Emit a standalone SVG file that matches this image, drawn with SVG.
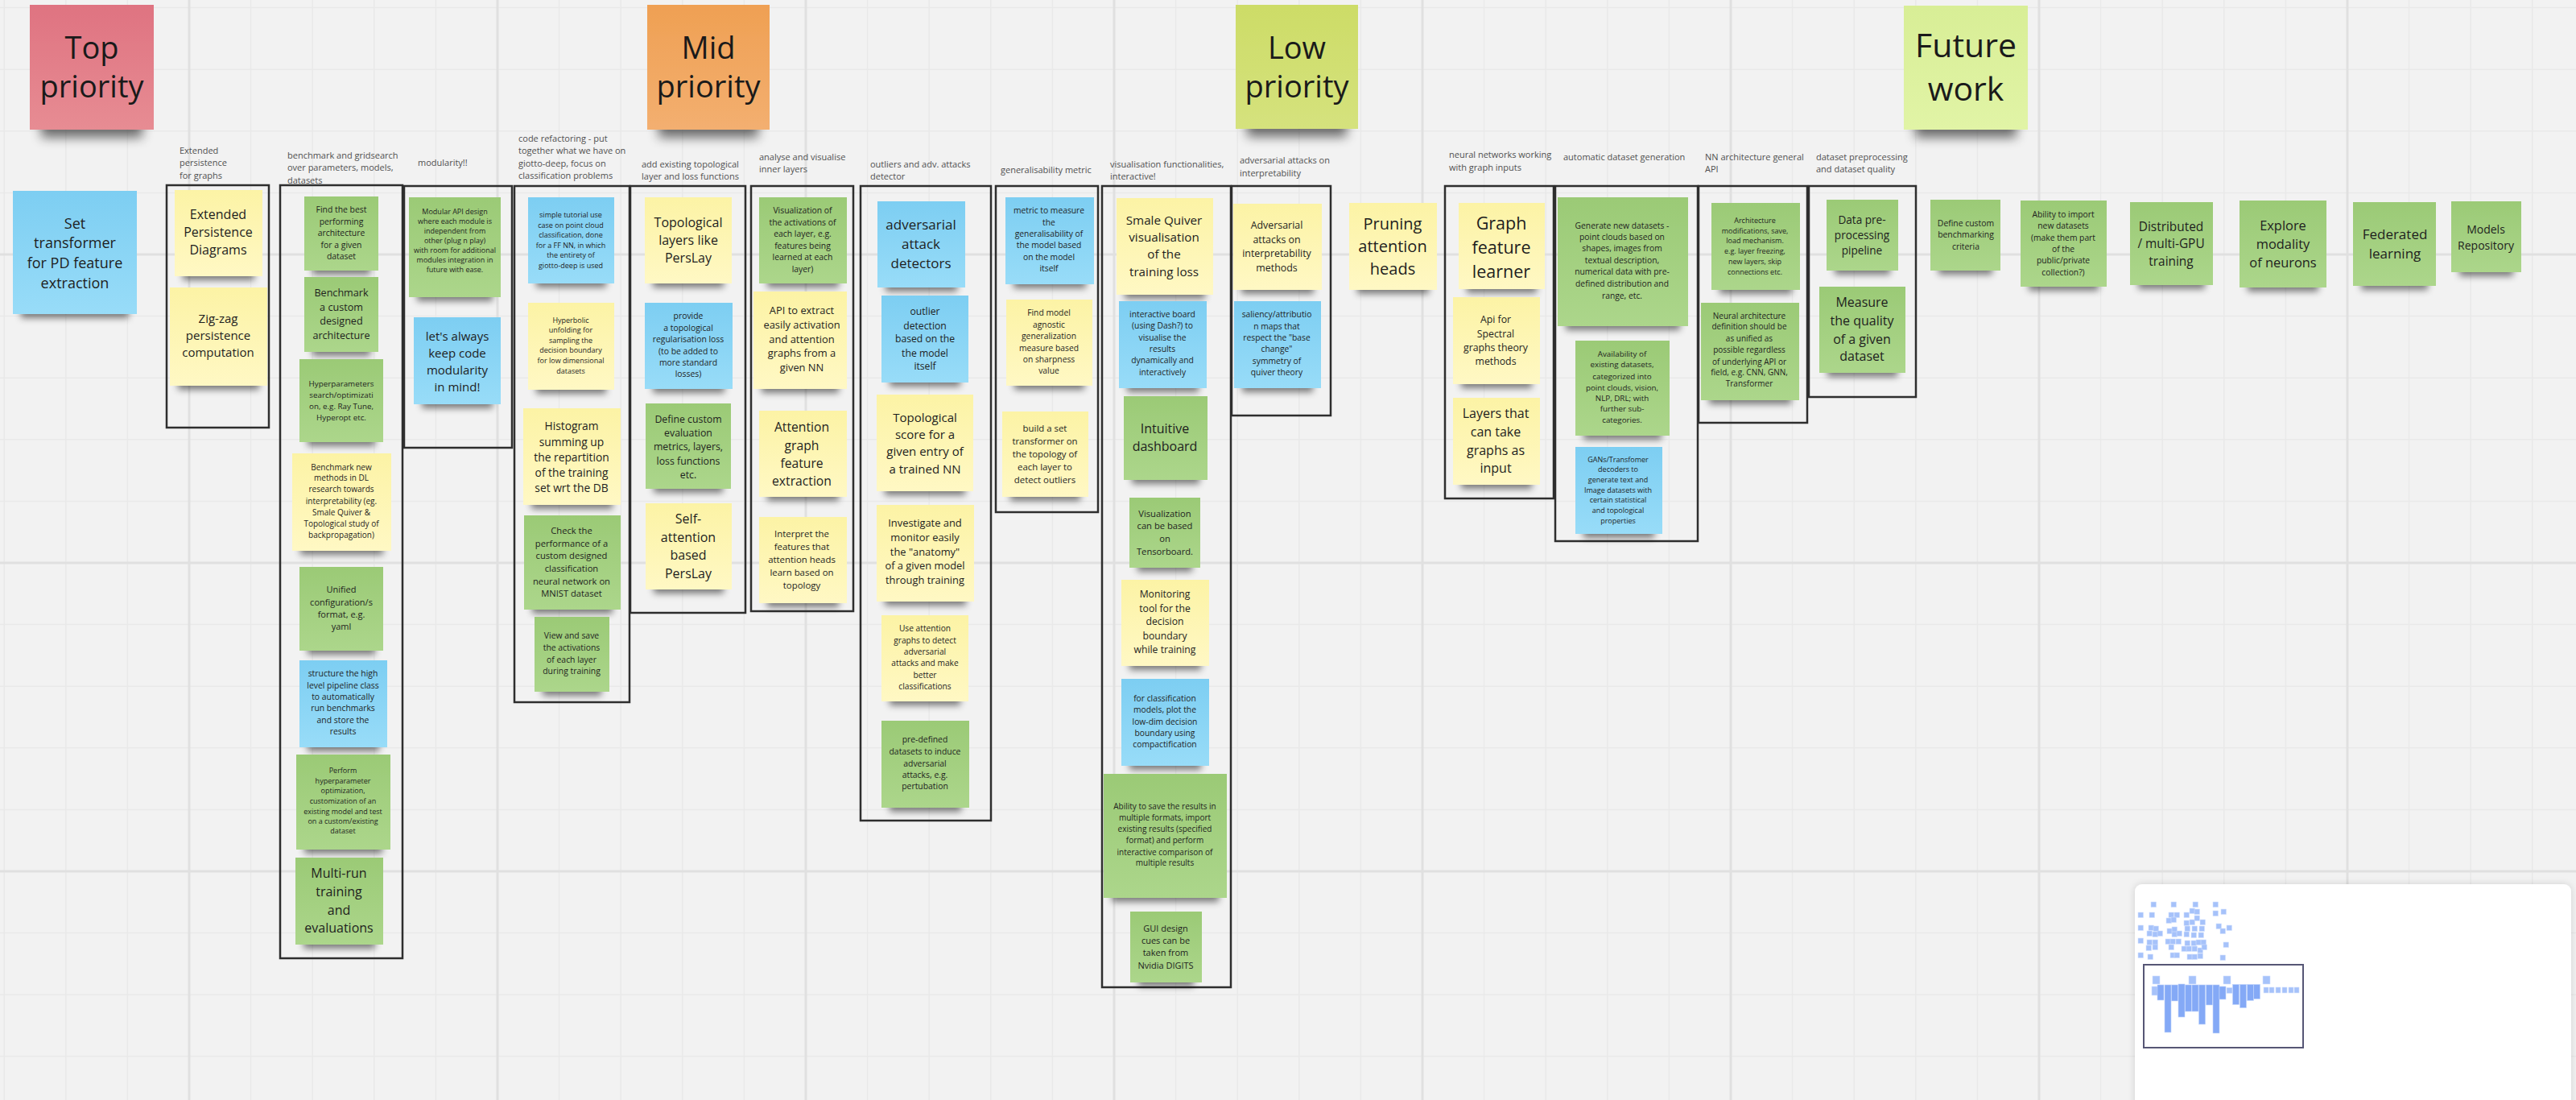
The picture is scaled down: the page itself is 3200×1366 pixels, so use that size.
<svg xmlns="http://www.w3.org/2000/svg" width="3200" height="1366" viewBox="0 0 3200 1366">
<defs>
<pattern id="grid" width="383" height="383" patternUnits="userSpaceOnUse" x="235" y="316">
<path d="M76.6 0V383M153.2 0V383M229.8 0V383M306.4 0V383M0 76.6H383M0 153.2H383M0 229.8H383M0 306.4H383" stroke="#e9e9e9" stroke-width="1.5" fill="none"/>
<path d="M0 0V383M383 0V383M0 0H383M0 383H383" stroke="#e0e0e0" stroke-width="3" fill="none"/>
</pattern>
<linearGradient id="gy" x1="0" y1="0" x2="0" y2="1"><stop offset="0" stop-color="#fcf3a5"/><stop offset="1" stop-color="#fff8c4"/></linearGradient>
<linearGradient id="gg" x1="0" y1="0" x2="0" y2="1"><stop offset="0" stop-color="#9bca76"/><stop offset="1" stop-color="#acd68b"/></linearGradient>
<linearGradient id="gb" x1="0" y1="0" x2="0" y2="1"><stop offset="0" stop-color="#7dcef2"/><stop offset="1" stop-color="#98dcf8"/></linearGradient>
<linearGradient id="gtop" x1="0" y1="0" x2="0" y2="1"><stop offset="0" stop-color="#df7381"/><stop offset="1" stop-color="#e78c93"/></linearGradient>
<linearGradient id="gmid" x1="0" y1="0" x2="0" y2="1"><stop offset="0" stop-color="#efa053"/><stop offset="1" stop-color="#f3af70"/></linearGradient>
<linearGradient id="glow" x1="0" y1="0" x2="0" y2="1"><stop offset="0" stop-color="#cddc67"/><stop offset="1" stop-color="#d5e27d"/></linearGradient>
<linearGradient id="gfut" x1="0" y1="0" x2="0" y2="1"><stop offset="0" stop-color="#d8ee96"/><stop offset="1" stop-color="#e1f4a6"/></linearGradient>
<filter id="ns" x="-10%" y="-10%" width="120%" height="135%">
<feMorphology in="SourceAlpha" operator="erode" radius="10 4" result="e"/>
<feOffset in="e" dy="9" result="o"/>
<feGaussianBlur in="o" stdDeviation="4" result="b"/>
<feComponentTransfer in="b" result="s"><feFuncA type="linear" slope="0.5"/></feComponentTransfer>
<feMerge><feMergeNode in="s"/><feMergeNode in="SourceGraphic"/></feMerge>
</filter>
<filter id="hs" x="-10%" y="-10%" width="120%" height="140%">
<feMorphology in="SourceAlpha" operator="erode" radius="14 6" result="e"/>
<feOffset in="e" dy="16" result="o"/>
<feGaussianBlur in="o" stdDeviation="7" result="b"/>
<feComponentTransfer in="b" result="s"><feFuncA type="linear" slope="0.55"/></feComponentTransfer>
<feMerge><feMergeNode in="s"/><feMergeNode in="SourceGraphic"/></feMerge>
</filter>
<filter id="ps" x="-5%" y="-5%" width="110%" height="110%"><feDropShadow dx="0" dy="0" stdDeviation="4" flood-color="#000" flood-opacity="0.15"/></filter>
<style>
.y{fill:url(#gy);filter:url(#ns)}
.g{fill:url(#gg);filter:url(#ns)}
.b{fill:url(#gb);filter:url(#ns)}
.fr{fill:none;stroke:#2e2e2e;stroke-width:2.5}
text{font-family:"Open Sans","Liberation Sans",sans-serif;fill:#1e1e1e}
.t{text-anchor:middle;dominant-baseline:central}
.lb{font-size:11px;fill:#505050;dominant-baseline:central}
.hd{text-anchor:middle;font-size:38px;fill:#1a1a1a}
.mm{fill:#a6c2fa;stroke:#d4e1fd;stroke-width:0.6}
.mb{fill:#84a9f6;stroke:#c2d5fc;stroke-width:0.6}
</style>
</defs>

<rect width="3200" height="1366" fill="#f2f2f2"/>
<rect width="3200" height="1366" fill="url(#grid)"/>

<g id="headers">
<g id="top-priority"><rect x="37" y="6" width="154" height="155" fill="url(#gtop)" filter="url(#hs)"/><text class="hd"><tspan x="114" y="73">Top</tspan><tspan x="114" y="121">priority</tspan></text></g>
<g id="mid-priority"><rect x="804" y="6" width="152" height="155" fill="url(#gmid)" filter="url(#hs)"/><text class="hd"><tspan x="880" y="73">Mid</tspan><tspan x="880" y="121">priority</tspan></text></g>
<g id="low-priority"><rect x="1535" y="6" width="152" height="154" fill="url(#glow)" filter="url(#hs)"/><text class="hd"><tspan x="1611" y="73">Low</tspan><tspan x="1611" y="121">priority</tspan></text></g>
<g id="future-work"><rect x="2365" y="7" width="154" height="154" fill="url(#gfut)" filter="url(#hs)"/><text class="hd" style="font-size:41px"><tspan x="2442" y="71">Future</tspan><tspan x="2442" y="125">work</tspan></text></g>
</g>

<g id="frames">
<rect class="fr" x="207" y="230" width="127" height="301"/>
<rect class="fr" x="348" y="230" width="152" height="960"/>
<rect class="fr" x="502" y="231" width="134" height="325"/>
<rect class="fr" x="639" y="231" width="143" height="641"/>
<rect class="fr" x="783" y="231" width="143" height="530"/>
<rect class="fr" x="933" y="231" width="127" height="528"/>
<rect class="fr" x="1069" y="231" width="162" height="788"/>
<rect class="fr" x="1237" y="231" width="127" height="405"/>
<rect class="fr" x="1369" y="231" width="160" height="995"/>
<rect class="fr" x="1530" y="231" width="123" height="285"/>
<rect class="fr" x="1795" y="231" width="135" height="388"/>
<rect class="fr" x="1932" y="231" width="177" height="441"/>
<rect class="fr" x="2110" y="231" width="135" height="294"/>
<rect class="fr" x="2247" y="231" width="133" height="262"/>
</g>

<g id="labels">
<text class="lb"><tspan x="223" y="186">Extended</tspan><tspan x="223" y="201">persistence</tspan><tspan x="223" y="217">for graphs</tspan></text>
<text class="lb"><tspan x="357" y="192">benchmark and gridsearch</tspan><tspan x="357" y="207">over parameters, models,</tspan><tspan x="357" y="223">datasets</tspan></text>
<text class="lb" x="519" y="201">modularity!!</text>
<text class="lb"><tspan x="644" y="171">code refactoring - put</tspan><tspan x="644" y="186">together what we have on</tspan><tspan x="644" y="202">giotto-deep, focus on</tspan><tspan x="644" y="217">classification problems</tspan></text>
<text class="lb"><tspan x="797" y="203">add existing topological</tspan><tspan x="797" y="218">layer and loss functions</tspan></text>
<text class="lb"><tspan x="943" y="194">analyse and visualise</tspan><tspan x="943" y="209">inner layers</tspan></text>
<text class="lb"><tspan x="1081" y="203">outliers and adv. attacks</tspan><tspan x="1081" y="218">detector</tspan></text>
<text class="lb" x="1243" y="210">generalisability metric</text>
<text class="lb"><tspan x="1379" y="203">visualisation functionalities,</tspan><tspan x="1379" y="218">interactive!</tspan></text>
<text class="lb"><tspan x="1540" y="198">adversarial attacks on</tspan><tspan x="1540" y="214">interpretability</tspan></text>
<text class="lb"><tspan x="1800" y="191">neural networks working</tspan><tspan x="1800" y="207">with graph inputs</tspan></text>
<text class="lb" x="1942" y="194">automatic dataset generation</text>
<text class="lb"><tspan x="2118" y="194">NN architecture general</tspan><tspan x="2118" y="209">API</tspan></text>
<text class="lb"><tspan x="2256" y="194">dataset preprocessing</tspan><tspan x="2256" y="209">and dataset quality</tspan></text>
</g>

<g id="connectors"></g>

<g id="notes">
<g id="set-transformer"><rect class="b" x="16" y="237" width="154" height="153"/><text class="t" font-size="18"><tspan x="93" y="277">Set</tspan><tspan x="93" y="301">transformer</tspan><tspan x="93" y="326">for PD feature</tspan><tspan x="93" y="351">extraction</tspan></text></g>

<g id="ext-pd"><rect class="y" x="217" y="236" width="109" height="107"/><text class="t" font-size="16"><tspan x="271" y="266">Extended</tspan><tspan x="271" y="288">Persistence</tspan><tspan x="271" y="310">Diagrams</tspan></text></g>
<g id="zigzag"><rect class="y" x="211" y="357" width="121" height="122"/><text class="t" font-size="15"><tspan x="271" y="395">Zig-zag</tspan><tspan x="271" y="416">persistence</tspan><tspan x="271" y="437">computation</tspan></text></g>

<g id="best-arch"><rect class="g" x="378" y="244" width="92" height="92"/><text class="t" font-size="10.4"><tspan x="424" y="260">Find the best</tspan><tspan x="424" y="275">performing</tspan><tspan x="424" y="289">architecture</tspan><tspan x="424" y="304">for a given</tspan><tspan x="424" y="318">dataset</tspan></text></g>
<g id="bench-custom"><rect class="g" x="378" y="344" width="92" height="93"/><text class="t" font-size="12.6"><tspan x="424" y="363">Benchmark</tspan><tspan x="424" y="381">a custom</tspan><tspan x="424" y="398">designed</tspan><tspan x="424" y="416">architecture</tspan></text></g>
<g id="hyperparams"><rect class="g" x="372" y="446" width="104" height="103"/><text class="t" font-size="9.8"><tspan x="424" y="476">Hyperparameters</tspan><tspan x="424" y="490">search/optimizati</tspan><tspan x="424" y="504">on, e.g. Ray Tune,</tspan><tspan x="424" y="518">Hyperopt etc.</tspan></text></g>
<g id="bench-new"><rect class="y" x="363" y="563" width="123" height="121"/><text class="t" font-size="10"><tspan x="424" y="580">Benchmark new</tspan><tspan x="424" y="593">methods in DL</tspan><tspan x="424" y="607">research towards</tspan><tspan x="424" y="622">interpretability (eg.</tspan><tspan x="424" y="636">Smale Quiver &amp;</tspan><tspan x="424" y="650">Topological study of</tspan><tspan x="424" y="664">backpropagation)</tspan></text></g>
<g id="unified"><rect class="g" x="372" y="704" width="104" height="104"/><text class="t" font-size="11"><tspan x="424" y="731">Unified</tspan><tspan x="424" y="747">configuration/s</tspan><tspan x="424" y="762">format, e.g.</tspan><tspan x="424" y="777">yaml</tspan></text></g>
<g id="structure"><rect class="b" x="372" y="820" width="109" height="108"/><text class="t" font-size="10.4"><tspan x="426" y="836">structure the high</tspan><tspan x="426" y="851">level pipeline class</tspan><tspan x="426" y="865">to automatically</tspan><tspan x="426" y="879">run benchmarks</tspan><tspan x="426" y="894">and store the</tspan><tspan x="426" y="908">results</tspan></text></g>
<g id="perform-hpo"><rect class="g" x="368" y="937" width="117" height="118"/><text class="t" font-size="9"><tspan x="426" y="956">Perform</tspan><tspan x="426" y="969">hyperparameter</tspan><tspan x="426" y="981">optimization,</tspan><tspan x="426" y="994">customization of an</tspan><tspan x="426" y="1007">existing model and test</tspan><tspan x="426" y="1019">on a custom/existing</tspan><tspan x="426" y="1031">dataset</tspan></text></g>
<g id="multi-run"><rect class="g" x="367" y="1065" width="109" height="108"/><text class="t" font-size="16"><tspan x="421" y="1084">Multi-run</tspan><tspan x="421" y="1107">training</tspan><tspan x="421" y="1130">and</tspan><tspan x="421" y="1152">evaluations</tspan></text></g>

<g id="modular-api"><rect class="g" x="508" y="245" width="114" height="124"/><text class="t" font-size="9"><tspan x="565" y="262">Modular API design</tspan><tspan x="565" y="274">where each module is</tspan><tspan x="565" y="286">independent from</tspan><tspan x="565" y="298">other (plug n play)</tspan><tspan x="565" y="310">with room for additional</tspan><tspan x="565" y="322">modules integration in</tspan><tspan x="565" y="334">future with ease.</tspan></text></g>
<g id="keep-modularity"><rect class="b" x="514" y="394" width="108" height="108"/><text class="t" font-size="15"><tspan x="568" y="417">let's always</tspan><tspan x="568" y="438">keep code</tspan><tspan x="568" y="459">modularity</tspan><tspan x="568" y="480">in mind!</tspan></text></g>

<g id="tutorial"><rect class="b" x="656" y="245" width="107" height="107"/><text class="t" font-size="9"><tspan x="709" y="266">simple tutorial use</tspan><tspan x="709" y="279">case on point cloud</tspan><tspan x="709" y="291">classification, done</tspan><tspan x="709" y="304">for a FF NN, in which</tspan><tspan x="709" y="316">the entirety of</tspan><tspan x="709" y="329">giotto-deep is used</tspan></text></g>
<g id="hyperbolic"><rect class="y" x="656" y="376" width="107" height="108"/><text class="t" font-size="9"><tspan x="709" y="397">Hyperbolic</tspan><tspan x="709" y="409">unfolding for</tspan><tspan x="709" y="422">sampling the</tspan><tspan x="709" y="434">decision boundary</tspan><tspan x="709" y="447">for low dimensional</tspan><tspan x="709" y="460">datasets</tspan></text></g>
<g id="histogram"><rect class="y" x="650" y="507" width="121" height="120"/><text class="t" font-size="13.8"><tspan x="710" y="528">Histogram</tspan><tspan x="710" y="548">summing up</tspan><tspan x="710" y="567">the repartition</tspan><tspan x="710" y="586">of the training</tspan><tspan x="710" y="605">set wrt the DB</tspan></text></g>
<g id="check-perf"><rect class="g" x="651" y="640" width="120" height="117"/><text class="t" font-size="11.2"><tspan x="710" y="658">Check the</tspan><tspan x="710" y="674">performance of a</tspan><tspan x="710" y="689">custom designed</tspan><tspan x="710" y="705">classification</tspan><tspan x="710" y="721">neural network on</tspan><tspan x="710" y="736">MNIST dataset</tspan></text></g>
<g id="view-save"><rect class="g" x="664" y="766" width="93" height="93"/><text class="t" font-size="10.4"><tspan x="710" y="789">View and save</tspan><tspan x="710" y="804">the activations</tspan><tspan x="710" y="819">of each layer</tspan><tspan x="710" y="833">during training</tspan></text></g>

<g id="perslay"><rect class="y" x="801" y="245" width="108" height="107"/><text class="t" font-size="16"><tspan x="855" y="276">Topological</tspan><tspan x="855" y="298">layers like</tspan><tspan x="855" y="320">PersLay</tspan></text></g>
<g id="topo-reg"><rect class="b" x="801" y="376" width="109" height="107"/><text class="t" font-size="10.4"><tspan x="855" y="392">provide</tspan><tspan x="855" y="407">a topological</tspan><tspan x="855" y="421">regularisation loss</tspan><tspan x="855" y="436">(to be added to</tspan><tspan x="855" y="450">more standard</tspan><tspan x="855" y="464">losses)</tspan></text></g>
<g id="custom-metrics"><rect class="g" x="802" y="501" width="106" height="106"/><text class="t" font-size="12.3"><tspan x="855" y="520">Define custom</tspan><tspan x="855" y="537">evaluation</tspan><tspan x="855" y="554">metrics, layers,</tspan><tspan x="855" y="572">loss functions</tspan><tspan x="855" y="589">etc.</tspan></text></g>
<g id="self-attn"><rect class="y" x="802" y="625" width="107" height="107"/><text class="t" font-size="16"><tspan x="855" y="644">Self-</tspan><tspan x="855" y="667">attention</tspan><tspan x="855" y="689">based</tspan><tspan x="855" y="712">PersLay</tspan></text></g>

<g id="vis-activations"><rect class="g" x="943" y="245" width="109" height="107"/><text class="t" font-size="10.4"><tspan x="997" y="261">Visualization of</tspan><tspan x="997" y="276">the activations of</tspan><tspan x="997" y="290">each layer, e.g.</tspan><tspan x="997" y="305">features being</tspan><tspan x="997" y="319">learned at each</tspan><tspan x="997" y="334">layer)</tspan></text></g>
<g id="api-extract"><rect class="y" x="936" y="362" width="116" height="121"/><text class="t" font-size="12.9"><tspan x="996" y="385">API to extract</tspan><tspan x="996" y="403">easily activation</tspan><tspan x="996" y="421">and attention</tspan><tspan x="996" y="438">graphs from a</tspan><tspan x="996" y="456">given NN</tspan></text></g>
<g id="attn-graph"><rect class="y" x="943" y="510" width="109" height="107"/><text class="t" font-size="15.7"><tspan x="996" y="530">Attention</tspan><tspan x="996" y="553">graph</tspan><tspan x="996" y="575">feature</tspan><tspan x="996" y="597">extraction</tspan></text></g>
<g id="interpret"><rect class="y" x="943" y="642" width="109" height="107"/><text class="t" font-size="11.4"><tspan x="996" y="662">Interpret the</tspan><tspan x="996" y="678">features that</tspan><tspan x="996" y="694">attention heads</tspan><tspan x="996" y="710">learn based on</tspan><tspan x="996" y="726">topology</tspan></text></g>

<g id="adv-detectors"><rect class="b" x="1090" y="250" width="109" height="107"/><text class="t" font-size="17"><tspan x="1144" y="278">adversarial</tspan><tspan x="1144" y="302">attack</tspan><tspan x="1144" y="326">detectors</tspan></text></g>
<g id="outlier-detect"><rect class="b" x="1095" y="367" width="108" height="108"/><text class="t" font-size="12.2"><tspan x="1149" y="386">outlier</tspan><tspan x="1149" y="404">detection</tspan><tspan x="1149" y="420">based on the</tspan><tspan x="1149" y="438">the model</tspan><tspan x="1149" y="454">itself</tspan></text></g>
<g id="topo-score"><rect class="y" x="1089" y="490" width="120" height="120"/><text class="t" font-size="15"><tspan x="1149" y="518">Topological</tspan><tspan x="1149" y="539">score for a</tspan><tspan x="1149" y="560">given entry of</tspan><tspan x="1149" y="582">a trained NN</tspan></text></g>
<g id="investigate"><rect class="y" x="1089" y="627" width="121" height="120"/><text class="t" font-size="12.9"><tspan x="1149" y="649">Investigate and</tspan><tspan x="1149" y="667">monitor easily</tspan><tspan x="1149" y="685">the "anatomy"</tspan><tspan x="1149" y="702">of a given model</tspan><tspan x="1149" y="720">through training</tspan></text></g>
<g id="attn-adv"><rect class="y" x="1095" y="764" width="108" height="107"/><text class="t" font-size="10.2"><tspan x="1149" y="780">Use attention</tspan><tspan x="1149" y="795">graphs to detect</tspan><tspan x="1149" y="809">adversarial</tspan><tspan x="1149" y="823">attacks and make</tspan><tspan x="1149" y="838">better</tspan><tspan x="1149" y="852">classifications</tspan></text></g>
<g id="predefined"><rect class="g" x="1095" y="895" width="109" height="108"/><text class="t" font-size="10.4"><tspan x="1149" y="918">pre-defined</tspan><tspan x="1149" y="933">datasets to induce</tspan><tspan x="1149" y="948">adversarial</tspan><tspan x="1149" y="962">attacks, e.g.</tspan><tspan x="1149" y="976">pertubation</tspan></text></g>

<g id="gen-metric"><rect class="b" x="1249" y="245" width="110" height="108"/><text class="t" font-size="10.3"><tspan x="1303" y="261">metric to measure</tspan><tspan x="1303" y="276">the</tspan><tspan x="1303" y="290">generalisability of</tspan><tspan x="1303" y="304">the model based</tspan><tspan x="1303" y="319">on the model</tspan><tspan x="1303" y="333">itself</tspan></text></g>
<g id="sharpness"><rect class="y" x="1250" y="372" width="107" height="107"/><text class="t" font-size="10.3"><tspan x="1303" y="388">Find model</tspan><tspan x="1303" y="403">agnostic</tspan><tspan x="1303" y="417">generalization</tspan><tspan x="1303" y="432">measure based</tspan><tspan x="1303" y="446">on sharpness</tspan><tspan x="1303" y="460">value</tspan></text></g>
<g id="set-transformer-outliers"><rect class="y" x="1245" y="511" width="107" height="106"/><text class="t" font-size="11.4"><tspan x="1298" y="531">build a set</tspan><tspan x="1298" y="547">transformer on</tspan><tspan x="1298" y="563">the topology of</tspan><tspan x="1298" y="579">each layer to</tspan><tspan x="1298" y="595">detect outliers</tspan></text></g>

<g id="smale-quiver"><rect class="y" x="1387" y="246" width="120" height="120"/><text class="t" font-size="15.2"><tspan x="1446" y="273">Smale Quiver</tspan><tspan x="1446" y="294">visualisation</tspan><tspan x="1446" y="315">of the</tspan><tspan x="1446" y="337">training loss</tspan></text></g>
<g id="interactive-board"><rect class="b" x="1390" y="374" width="109" height="108"/><text class="t" font-size="10.3"><tspan x="1444" y="390">interactive board</tspan><tspan x="1444" y="404">(using Dash?) to</tspan><tspan x="1444" y="419">visualise the</tspan><tspan x="1444" y="433">results</tspan><tspan x="1444" y="447">dynamically and</tspan><tspan x="1444" y="462">interactively</tspan></text></g>
<g id="dashboard"><rect class="g" x="1396" y="492" width="104" height="104"/><text class="t" font-size="16"><tspan x="1447" y="532">Intuitive</tspan><tspan x="1447" y="554">dashboard</tspan></text></g>
<g id="tensorboard"><rect class="g" x="1403" y="618" width="88" height="87"/><text class="t" font-size="11.2"><tspan x="1447" y="637">Visualization</tspan><tspan x="1447" y="652">can be based</tspan><tspan x="1447" y="668">on</tspan><tspan x="1447" y="684">Tensorboard.</tspan></text></g>
<g id="monitoring"><rect class="y" x="1393" y="720" width="109" height="107"/><text class="t" font-size="12.2"><tspan x="1447" y="737">Monitoring</tspan><tspan x="1447" y="755">tool for the</tspan><tspan x="1447" y="771">decision</tspan><tspan x="1447" y="789">boundary</tspan><tspan x="1447" y="806">while training</tspan></text></g>
<g id="compactification"><rect class="b" x="1393" y="843" width="109" height="108"/><text class="t" font-size="10.3"><tspan x="1447" y="867">for classification</tspan><tspan x="1447" y="881">models, plot the</tspan><tspan x="1447" y="896">low-dim decision</tspan><tspan x="1447" y="910">boundary using</tspan><tspan x="1447" y="924">compactification</tspan></text></g>
<g id="save-results"><rect class="g" x="1371" y="961" width="153" height="154"/><text class="t" font-size="10"><tspan x="1447" y="1001">Ability to save the results in</tspan><tspan x="1447" y="1015">multiple formats, import</tspan><tspan x="1447" y="1029">existing results (specified</tspan><tspan x="1447" y="1043">format) and perform</tspan><tspan x="1447" y="1058">interactive comparison of</tspan><tspan x="1447" y="1071">multiple results</tspan></text></g>
<g id="gui-digits"><rect class="g" x="1404" y="1132" width="89" height="88"/><text class="t" font-size="11"><tspan x="1448" y="1152">GUI design</tspan><tspan x="1448" y="1167">cues can be</tspan><tspan x="1448" y="1182">taken from</tspan><tspan x="1448" y="1198">Nvidia DIGITS</tspan></text></g>

<g id="adv-interp"><rect class="y" x="1532" y="253" width="110" height="107"/><text class="t" font-size="12.4"><tspan x="1586" y="279">Adversarial</tspan><tspan x="1586" y="297">attacks on</tspan><tspan x="1586" y="314">interpretability</tspan><tspan x="1586" y="332">methods</tspan></text></g>
<g id="saliency"><rect class="b" x="1533" y="374" width="108" height="108"/><text class="t" font-size="10.3"><tspan x="1586" y="390">saliency/attributio</tspan><tspan x="1586" y="405">n maps that</tspan><tspan x="1586" y="419">respect the "base</tspan><tspan x="1586" y="433">change"</tspan><tspan x="1586" y="448">symmetry of</tspan><tspan x="1586" y="462">quiver theory</tspan></text></g>

<g id="pruning"><rect class="y" x="1676" y="252" width="109" height="108"/><text class="t" font-size="20"><tspan x="1730" y="277">Pruning</tspan><tspan x="1730" y="305">attention</tspan><tspan x="1730" y="333">heads</tspan></text></g>

<g id="graph-learner"><rect class="y" x="1812" y="252" width="107" height="107"/><text class="t" font-size="21.5"><tspan x="1865" y="276">Graph</tspan><tspan x="1865" y="306">feature</tspan><tspan x="1865" y="336">learner</tspan></text></g>
<g id="spectral"><rect class="y" x="1805" y="369" width="108" height="108"/><text class="t" font-size="12.3"><tspan x="1858" y="396">Api for</tspan><tspan x="1858" y="414">Spectral</tspan><tspan x="1858" y="431">graphs theory</tspan><tspan x="1858" y="448">methods</tspan></text></g>
<g id="graph-layers"><rect class="y" x="1805" y="494" width="108" height="108"/><text class="t" font-size="16"><tspan x="1858" y="513">Layers that</tspan><tspan x="1858" y="536">can take</tspan><tspan x="1858" y="559">graphs as</tspan><tspan x="1858" y="581">input</tspan></text></g>

<g id="gen-datasets"><rect class="g" x="1935" y="245" width="162" height="160"/><text class="t" font-size="10.3"><tspan x="2015" y="280">Generate new datasets -</tspan><tspan x="2015" y="294">point clouds based on</tspan><tspan x="2015" y="308">shapes, images from</tspan><tspan x="2015" y="323">textual description,</tspan><tspan x="2015" y="337">numerical data with pre-</tspan><tspan x="2015" y="352">defined distribution and</tspan><tspan x="2015" y="367">range, etc.</tspan></text></g>
<g id="availability"><rect class="g" x="1957" y="423" width="117" height="118"/><text class="t" font-size="9.8"><tspan x="2015" y="439">Availability of</tspan><tspan x="2015" y="452">existing datasets,</tspan><tspan x="2015" y="467">categorized into</tspan><tspan x="2015" y="481">point clouds, vision,</tspan><tspan x="2015" y="494">NLP, DRL; with</tspan><tspan x="2015" y="507">further sub-</tspan><tspan x="2015" y="521">categories.</tspan></text></g>
<g id="gans"><rect class="b" x="1957" y="555" width="108" height="108"/><text class="t" font-size="9"><tspan x="2010" y="570">GANs/Transfomer</tspan><tspan x="2010" y="582">decoders to</tspan><tspan x="2010" y="595">generate text and</tspan><tspan x="2010" y="608">Image datasets with</tspan><tspan x="2010" y="620">certain statistical</tspan><tspan x="2010" y="633">and topological</tspan><tspan x="2010" y="646">properties</tspan></text></g>

<g id="arch-mods"><rect class="g" x="2126" y="252" width="110" height="108"/><text class="t" font-size="9"><tspan x="2180" y="273">Architecture</tspan><tspan x="2180" y="286">modifications, save,</tspan><tspan x="2180" y="298">load mechanism.</tspan><tspan x="2180" y="311">e.g. layer freezing,</tspan><tspan x="2180" y="324">new layers, skip</tspan><tspan x="2180" y="337">connections etc.</tspan></text></g>
<g id="arch-def"><rect class="g" x="2113" y="376" width="122" height="121"/><text class="t" font-size="10"><tspan x="2173" y="392">Neural architecture</tspan><tspan x="2173" y="405">definition should be</tspan><tspan x="2173" y="420">as unified as</tspan><tspan x="2173" y="434">possible regardless</tspan><tspan x="2173" y="449">of underlying API or</tspan><tspan x="2173" y="462">field, e.g. CNN, GNN,</tspan><tspan x="2173" y="476">Transformer</tspan></text></g>

<g id="preproc"><rect class="g" x="2269" y="248" width="89" height="88"/><text class="t" font-size="13.6"><tspan x="2313" y="272">Data pre-</tspan><tspan x="2313" y="291">processing</tspan><tspan x="2313" y="310">pipeline</tspan></text></g>
<g id="quality"><rect class="g" x="2260" y="356" width="107" height="107"/><text class="t" font-size="16"><tspan x="2313" y="375">Measure</tspan><tspan x="2313" y="398">the quality</tspan><tspan x="2313" y="421">of a given</tspan><tspan x="2313" y="442">dataset</tspan></text></g>

<g id="bench-criteria"><rect class="g" x="2398" y="248" width="87" height="88"/><text class="t" font-size="10.4"><tspan x="2442" y="277">Define custom</tspan><tspan x="2442" y="291">benchmarking</tspan><tspan x="2442" y="306">criteria</tspan></text></g>
<g id="import-datasets"><rect class="g" x="2510" y="249" width="107" height="107"/><text class="t" font-size="10.3"><tspan x="2563" y="266">Ability to import</tspan><tspan x="2563" y="280">new datasets</tspan><tspan x="2563" y="295">(make them part</tspan><tspan x="2563" y="309">of the</tspan><tspan x="2563" y="323">public/private</tspan><tspan x="2563" y="338">collection?)</tspan></text></g>
<g id="distributed"><rect class="g" x="2646" y="251" width="103" height="103"/><text class="t" font-size="15.4"><tspan x="2697" y="281">Distributed</tspan><tspan x="2697" y="302">/ multi-GPU</tspan><tspan x="2697" y="324">training</tspan></text></g>
<g id="modality"><rect class="g" x="2782" y="249" width="108" height="108"/><text class="t" font-size="16.4"><tspan x="2836" y="279">Explore</tspan><tspan x="2836" y="302">modality</tspan><tspan x="2836" y="325">of neurons</tspan></text></g>
<g id="federated"><rect class="g" x="2923" y="251" width="103" height="104"/><text class="t" font-size="17"><tspan x="2975" y="290">Federated</tspan><tspan x="2975" y="314">learning</tspan></text></g>
<g id="models-repo"><rect class="g" x="3045" y="250" width="87" height="88"/><text class="t" font-size="14"><tspan x="3088" y="284">Models</tspan><tspan x="3088" y="304">Repository</tspan></text></g>
</g>

<g id="minimap">
<rect x="2652" y="1098" width="542" height="290" rx="9" fill="#ffffff" filter="url(#ps)"/>
<g>
<rect class="mm" x="2672" y="1120" width="6.5" height="6.5"/><rect class="mm" x="2697" y="1120" width="6.5" height="6.5"/><rect class="mm" x="2724" y="1120" width="6.5" height="6.5"/><rect class="mm" x="2749" y="1120" width="6.5" height="6.5"/>
<rect class="mm" x="2656" y="1133" width="6.5" height="6.5"/><rect class="mm" x="2670" y="1133" width="6.5" height="6.5"/><rect class="mm" x="2694" y="1133" width="6.5" height="6.5"/><rect class="mm" x="2701" y="1133" width="6.5" height="6.5"/><rect class="mm" x="2713" y="1133" width="6.5" height="6.5"/><rect class="mm" x="2720" y="1128" width="6.5" height="6.5"/><rect class="mm" x="2726" y="1129" width="6.5" height="6.5"/><rect class="mm" x="2749" y="1131" width="6.5" height="6.5"/><rect class="mm" x="2759" y="1129" width="6.5" height="6.5"/>
<rect class="mm" x="2691" y="1140" width="6.5" height="6.5"/><rect class="mm" x="2697" y="1139" width="6.5" height="6.5"/><rect class="mm" x="2713" y="1143" width="6.5" height="6.5"/><rect class="mm" x="2720" y="1142" width="6.5" height="6.5"/><rect class="mm" x="2726" y="1137" width="6.5" height="6.5"/><rect class="mm" x="2733" y="1142" width="6.5" height="6.5"/>
<rect class="mm" x="2656" y="1149" width="6.5" height="6.5"/><rect class="mm" x="2669" y="1149" width="6.5" height="6.5"/><rect class="mm" x="2675" y="1150" width="6.5" height="6.5"/><rect class="mm" x="2692" y="1153" width="6.5" height="6.5"/><rect class="mm" x="2698" y="1151" width="6.5" height="6.5"/><rect class="mm" x="2714" y="1150" width="6.5" height="6.5"/><rect class="mm" x="2723" y="1150" width="6.5" height="6.5"/><rect class="mm" x="2732" y="1150" width="6.5" height="6.5"/><rect class="mm" x="2753" y="1147" width="6.5" height="6.5"/><rect class="mm" x="2766" y="1149" width="6.5" height="6.5"/><rect class="mm" x="2758" y="1153" width="6.5" height="6.5"/>
<rect class="mm" x="2667" y="1156" width="6.5" height="6.5"/><rect class="mm" x="2674" y="1157" width="6.5" height="6.5"/><rect class="mm" x="2680" y="1156" width="6.5" height="6.5"/><rect class="mm" x="2698" y="1157" width="6.5" height="6.5"/><rect class="mm" x="2704" y="1156" width="6.5" height="6.5"/><rect class="mm" x="2713" y="1157" width="6.5" height="6.5"/><rect class="mm" x="2722" y="1158" width="6.5" height="6.5"/><rect class="mm" x="2731" y="1158" width="6.5" height="6.5"/>
<rect class="mm" x="2656" y="1165" width="6.5" height="6.5"/><rect class="mm" x="2667" y="1167" width="6.5" height="6.5"/><rect class="mm" x="2674" y="1167" width="6.5" height="6.5"/><rect class="mm" x="2690" y="1166" width="6.5" height="6.5"/><rect class="mm" x="2696" y="1166" width="6.5" height="6.5"/><rect class="mm" x="2703" y="1166" width="6.5" height="6.5"/><rect class="mm" x="2714" y="1168" width="6.5" height="6.5"/><rect class="mm" x="2722" y="1168" width="6.5" height="6.5"/><rect class="mm" x="2728" y="1167" width="6.5" height="6.5"/><rect class="mm" x="2734" y="1167" width="6.5" height="6.5"/><rect class="mm" x="2762" y="1170" width="6.5" height="6.5"/>
<rect class="mm" x="2666" y="1174" width="6.5" height="6.5"/><rect class="mm" x="2674" y="1173" width="6.5" height="6.5"/><rect class="mm" x="2694" y="1173" width="6.5" height="6.5"/><rect class="mm" x="2710" y="1175" width="6.5" height="6.5"/><rect class="mm" x="2716" y="1175" width="6.5" height="6.5"/><rect class="mm" x="2723" y="1175" width="6.5" height="6.5"/><rect class="mm" x="2730" y="1177" width="6.5" height="6.5"/><rect class="mm" x="2735" y="1173" width="6.5" height="6.5"/>
<rect class="mm" x="2656" y="1183" width="6.5" height="6.5"/><rect class="mm" x="2668" y="1185" width="6.5" height="6.5"/><rect class="mm" x="2696" y="1183" width="6.5" height="6.5"/><rect class="mm" x="2701" y="1183" width="6.5" height="6.5"/><rect class="mm" x="2717" y="1185" width="6.5" height="6.5"/><rect class="mm" x="2723" y="1185" width="6.5" height="6.5"/><rect class="mm" x="2730" y="1184" width="6.5" height="6.5"/><rect class="mm" x="2758" y="1186" width="6.5" height="6.5"/>
</g>
<g>
<rect class="mm" x="2674" y="1212" width="9" height="10"/><rect class="mm" x="2719" y="1212" width="9" height="10"/><rect class="mm" x="2762" y="1212" width="9" height="10"/><rect class="mm" x="2811" y="1212" width="9" height="10"/>
<rect class="mm" x="2673" y="1225" width="9" height="11"/>
<rect class="mb" x="2680" y="1223" width="8" height="19"/>
<rect class="mb" x="2689" y="1223" width="8" height="59"/>
<rect class="mb" x="2697.5" y="1223" width="8" height="20"/>
<rect class="mb" x="2706" y="1222" width="8" height="41"/>
<rect class="mb" x="2714.5" y="1223" width="8" height="33"/>
<rect class="mb" x="2723" y="1223" width="8" height="33"/>
<rect class="mb" x="2731.5" y="1223" width="8" height="49"/>
<rect class="mb" x="2740.5" y="1223" width="8" height="25"/>
<rect class="mb" x="2749" y="1223" width="8" height="60"/>
<rect class="mb" x="2757" y="1225" width="8" height="16"/>
<rect class="mm" x="2766" y="1226.5" width="7" height="7"/>
<rect class="mb" x="2773.5" y="1222.5" width="8" height="25"/>
<rect class="mb" x="2782.5" y="1222.5" width="8" height="29"/>
<rect class="mb" x="2791.5" y="1222.5" width="8" height="20"/>
<rect class="mb" x="2799.5" y="1222.5" width="8" height="18"/>
<rect class="mm" x="2812" y="1226" width="6" height="7"/><rect class="mm" x="2819" y="1226" width="6" height="7"/><rect class="mm" x="2827" y="1226" width="6" height="7"/><rect class="mm" x="2835" y="1226" width="6" height="7"/><rect class="mm" x="2843" y="1226" width="6" height="7"/><rect class="mm" x="2850" y="1226" width="6" height="7"/>
</g>
<rect x="2663" y="1198" width="198" height="103" fill="none" stroke="#565675" stroke-width="2"/>
</g>
</svg>
